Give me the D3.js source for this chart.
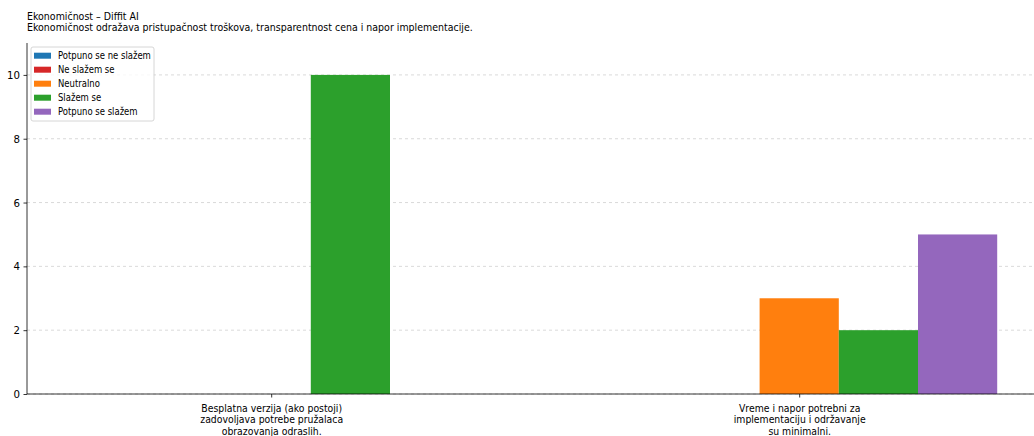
<!DOCTYPE html>
<html><head><meta charset="utf-8">
<script src="https://cdn.jsdelivr.net/npm/d3@7"></script>
<style>
body{margin:0;background:#fff;}
text{font-family:"DejaVu Sans",sans-serif;}
</style></head>
<body><svg id="c" width="1034" height="436"></svg>
<script>
const categories = [
  ["Besplatna verzija (ako postoji)","zadovoljava potrebe pružalaca","obrazovanja odraslih."],
  ["Vreme i napor potrebni za","implementaciju i održavanje","su minimalni."]
];
const seriesNames = ["Potpuno se ne slažem","Ne slažem se","Neutralno","Slažem se","Potpuno se slažem"];
const seriesColors = ["#1f77b4","#d62728","#ff7f0e","#2ca02c","#9467bd"];
const values = [
  [0, 0],
  [0, 0],
  [0, 3],
  [10, 2],
  [0, 5]
];
const yTicks = [0,2,4,6,8,10];
const title1 = "Ekonomičnost – Diffit AI";
const title2 = "Ekonomičnost odražava pristupačnost troškova, transparentnost cena i napor implementacije.";

// horizontal squeeze of glyphs about the text's own x anchor
function squeeze(sel, k){
  sel.each(function(){
    const x0 = +(this.getAttribute("x") || 0);
    d3.select(this).attr("transform", `translate(${x0},0) scale(${k},1) translate(${-x0},0)`);
  });
}
// factor that makes a given node's natural width equal to a target width
function fitK(node, target){ const w = node.getComputedTextLength(); return w > 0 ? target / w : 1; }

const svg = d3.select("#c");
const L = 27, B = 394, T = 43;
const barW = 0.15;
const x = d3.scaleLinear().domain([-0.4625, 1.4625]).range([L, L + 1.925*528]);
const y = d3.scaleLinear().domain([0, 11]).range([B, T]);

// grid
svg.append("g").selectAll("line").data(yTicks).join("line")
  .attr("x1", L).attr("x2", 1034).attr("y1", d=>y(d)).attr("y2", d=>y(d))
  .attr("stroke","#d0d0d0").attr("stroke-width",0.8).attr("stroke-dasharray","3,3");

// bars
seriesNames.forEach((s,i)=>{
  svg.append("g").selectAll("rect").data(values[i]).join("rect")
    .attr("x",(d,j)=>x(j + (i-2)*barW - barW/2))
    .attr("width", x(barW)-x(0))
    .attr("y", d=>y(d)).attr("height", d=>y(0)-y(d))
    .attr("fill", seriesColors[i]);
});

// axes
const ya = svg.append("g").attr("transform",`translate(${L},0)`)
  .call(d3.axisLeft(y).tickValues(yTicks).tickSize(3.5).tickPadding(3.5).tickSizeOuter(0));
ya.select(".domain").attr("d",`M0,${B}V${T}`).attr("stroke","#000").attr("stroke-width",0.8);
ya.selectAll("text").attr("font-size",11).attr("fill","#000");
const kY = fitK(ya.selectAll("text").filter(d=>d===10).node(), 13);
squeeze(ya.selectAll("text"), kY);
ya.selectAll(".tick line").attr("stroke","#000").attr("stroke-width",0.8);

const xa = svg.append("g").attr("transform",`translate(0,${B})`)
  .call(d3.axisBottom(x).tickValues([0,1]).tickSize(3.5).tickFormat(""));
xa.select(".domain").attr("d",`M${L},0H1034`).attr("stroke","#000").attr("stroke-width",0.8);
xa.selectAll(".tick line").attr("stroke","#000").attr("stroke-width",0.8);
xa.selectAll(".tick").each(function(d){
  const t = d3.select(this).append("text").attr("fill","#000").attr("font-size",10.5)
    .attr("text-anchor","middle").attr("x",0);
  categories[d].forEach((ln,k)=>t.append("tspan").attr("x",0).attr("y",18+k*11.5).text(ln));
});
const kX = fitK(xa.select("tspan").node(), 141);
squeeze(xa.selectAll(".tick text"), kX);

// titles
const t1 = svg.append("text").attr("x",27).attr("y",19.7).attr("font-size",10.3).text(title1);
const t2 = svg.append("text").attr("x",27).attr("y",30.7).attr("font-size",10.3).text(title2);
const kT = fitK(t2.node(), 446);
squeeze(t1, kT); squeeze(t2, kT);

// legend
const lg = svg.append("g").attr("transform","translate(31,47)");
lg.append("rect").attr("width",123).attr("height",74).attr("rx",2)
  .attr("fill","#fff").attr("fill-opacity",0.8).attr("stroke","#ccc").attr("stroke-width",0.8);
const legTexts = [];
seriesNames.forEach((s,i)=>{
  const g = lg.append("g").attr("transform",`translate(3,${8.7+i*14})`);
  g.append("rect").attr("x",0).attr("y",-3).attr("width",17).attr("height",6).attr("fill",seriesColors[i]);
  legTexts.push(g.append("text").attr("x",24).attr("y",3.6).attr("font-size",10).text(s).node());
});
const kL = fitK(legTexts[0], 93);
squeeze(d3.selectAll(legTexts), kL);
</script></body></html>
